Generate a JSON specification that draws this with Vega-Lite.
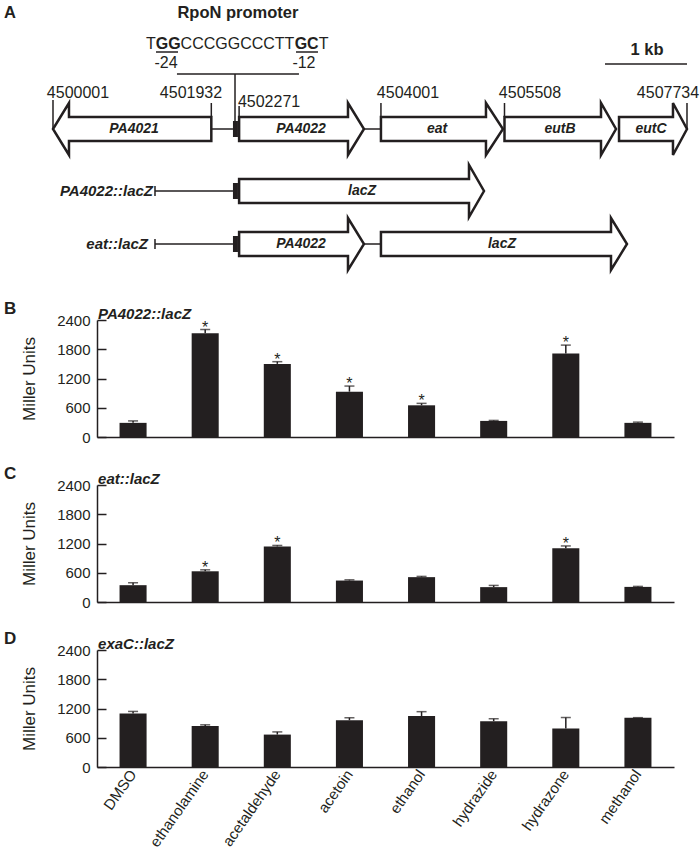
{
  "$schema": "https://vega.github.io/schema/vega-lite/v6.json",
  "padding": {"left": 3, "top": 0, "right": 0, "bottom": 0},
  "background": "white",
  "bounds": "flush",
  "spacing": 48,
  "config": {
    "view": {"stroke": null},
    "font": "Liberation Sans",
    "text": {"font": "Liberation Sans", "color": "#231f20"},
    "axis": {"grid": false, "domainColor": "#231f20", "domainWidth": 1.5, "tickColor": "#231f20", "tickWidth": 1.5, "labelColor": "#231f20", "titleColor": "#231f20", "labelFont": "Liberation Sans", "titleFont": "Liberation Sans", "labelFontSize": 15, "titleFontSize": 17, "titleFontWeight": "normal"},
    "axisY": {"format": "d", "labelOverlap": false, "labelBound": false, "tickSize": -9, "labelPadding": 16, "titlePadding": 18, "tickCount": 10}
  },
  "datasets": {
    "arrows": [
      {"arrow": "PA4021", "ord": 1, "g": 4501932, "y": 155}, {"arrow": "PA4021", "ord": 2, "g": 4500196, "y": 155}, {"arrow": "PA4021", "ord": 3, "g": 4500196, "y": 169}, {"arrow": "PA4021", "ord": 4, "g": 4500001, "y": 143}, {"arrow": "PA4021", "ord": 5, "g": 4500196, "y": 117}, {"arrow": "PA4021", "ord": 6, "g": 4500196, "y": 131}, {"arrow": "PA4021", "ord": 7, "g": 4501932, "y": 131}, {"arrow": "PA4021", "ord": 8, "g": 4501932, "y": 155},
      {"arrow": "PA4022", "ord": 1, "g": 4502271, "y": 155}, {"arrow": "PA4022", "ord": 2, "g": 4503599, "y": 155}, {"arrow": "PA4022", "ord": 3, "g": 4503599, "y": 169}, {"arrow": "PA4022", "ord": 4, "g": 4503794, "y": 143}, {"arrow": "PA4022", "ord": 5, "g": 4503599, "y": 117}, {"arrow": "PA4022", "ord": 6, "g": 4503599, "y": 131}, {"arrow": "PA4022", "ord": 7, "g": 4502271, "y": 131}, {"arrow": "PA4022", "ord": 8, "g": 4502271, "y": 155},
      {"arrow": "eat", "ord": 1, "g": 4504001, "y": 155}, {"arrow": "eat", "ord": 2, "g": 4505282, "y": 155}, {"arrow": "eat", "ord": 3, "g": 4505282, "y": 169}, {"arrow": "eat", "ord": 4, "g": 4505489, "y": 143}, {"arrow": "eat", "ord": 5, "g": 4505282, "y": 117}, {"arrow": "eat", "ord": 6, "g": 4505282, "y": 131}, {"arrow": "eat", "ord": 7, "g": 4504001, "y": 131}, {"arrow": "eat", "ord": 8, "g": 4504001, "y": 155},
      {"arrow": "eutB", "ord": 1, "g": 4505508, "y": 155}, {"arrow": "eutB", "ord": 2, "g": 4506685, "y": 155}, {"arrow": "eutB", "ord": 3, "g": 4506685, "y": 169}, {"arrow": "eutB", "ord": 4, "g": 4506868, "y": 143}, {"arrow": "eutB", "ord": 5, "g": 4506685, "y": 117}, {"arrow": "eutB", "ord": 6, "g": 4506685, "y": 131}, {"arrow": "eutB", "ord": 7, "g": 4505508, "y": 131}, {"arrow": "eutB", "ord": 8, "g": 4505508, "y": 155},
      {"arrow": "eutC", "ord": 1, "g": 4506905, "y": 155}, {"arrow": "eutC", "ord": 2, "g": 4507563, "y": 155}, {"arrow": "eutC", "ord": 3, "g": 4507563, "y": 169}, {"arrow": "eutC", "ord": 4, "g": 4507734, "y": 143}, {"arrow": "eutC", "ord": 5, "g": 4507563, "y": 117}, {"arrow": "eutC", "ord": 6, "g": 4507563, "y": 131}, {"arrow": "eutC", "ord": 7, "g": 4506905, "y": 131}, {"arrow": "eutC", "ord": 8, "g": 4506905, "y": 155},
      {"arrow": "lacZ2", "ord": 1, "g": 4502271, "y": 93}, {"arrow": "lacZ2", "ord": 2, "g": 4505075, "y": 93}, {"arrow": "lacZ2", "ord": 3, "g": 4505075, "y": 107}, {"arrow": "lacZ2", "ord": 4, "g": 4505258, "y": 81}, {"arrow": "lacZ2", "ord": 5, "g": 4505075, "y": 55}, {"arrow": "lacZ2", "ord": 6, "g": 4505075, "y": 69}, {"arrow": "lacZ2", "ord": 7, "g": 4502271, "y": 69}, {"arrow": "lacZ2", "ord": 8, "g": 4502271, "y": 93},
      {"arrow": "PA4022c", "ord": 1, "g": 4502271, "y": 40}, {"arrow": "PA4022c", "ord": 2, "g": 4503599, "y": 40}, {"arrow": "PA4022c", "ord": 3, "g": 4503599, "y": 54}, {"arrow": "PA4022c", "ord": 4, "g": 4503794, "y": 28}, {"arrow": "PA4022c", "ord": 5, "g": 4503599, "y": 2}, {"arrow": "PA4022c", "ord": 6, "g": 4503599, "y": 16}, {"arrow": "PA4022c", "ord": 7, "g": 4502271, "y": 16}, {"arrow": "PA4022c", "ord": 8, "g": 4502271, "y": 40},
      {"arrow": "lacZ3", "ord": 1, "g": 4504001, "y": 40}, {"arrow": "lacZ3", "ord": 2, "g": 4506807, "y": 40}, {"arrow": "lacZ3", "ord": 3, "g": 4506807, "y": 54}, {"arrow": "lacZ3", "ord": 4, "g": 4507002, "y": 28}, {"arrow": "lacZ3", "ord": 5, "g": 4506807, "y": 2}, {"arrow": "lacZ3", "ord": 6, "g": 4506807, "y": 16}, {"arrow": "lacZ3", "ord": 7, "g": 4504001, "y": 16}, {"arrow": "lacZ3", "ord": 8, "g": 4504001, "y": 40}
    ],
    "hlines": [
      {"g1": 4501932, "g2": 4502196, "y": 143},
      {"g1": 4503794, "g2": 4504001, "y": 143},
      {"g1": 4501245, "g2": 4502196, "y": 81},
      {"g1": 4501245, "g2": 4502196, "y": 28},
      {"g1": 4503794, "g2": 4504001, "y": 28},
      {"g1": 4501513, "g2": 4503001, "y": 198},
      {"g1": 4501257, "g2": 4501526, "y": 220},
      {"g1": 4502965, "g2": 4503233, "y": 220},
      {"g1": 4506734, "g2": 4507734, "y": 208}
    ],
    "vlines": [
      {"g": 4500001, "y1": 172, "y2": 143},
      {"g": 4501932, "y1": 169, "y2": 155},
      {"g": 4502271, "y1": 166, "y2": 155},
      {"g": 4504001, "y1": 169, "y2": 155},
      {"g": 4505508, "y1": 169, "y2": 155},
      {"g": 4507734, "y1": 169, "y2": 143},
      {"g": 4502221, "y1": 198, "y2": 151},
      {"g": 4501245, "y1": 76, "y2": 86},
      {"g": 4501245, "y1": 23, "y2": 33}
    ],
    "boxes": [
      {"g1": 4502196, "g2": 4502257, "y1": 135, "y2": 151},
      {"g1": 4502196, "g2": 4502257, "y1": 73, "y2": 89},
      {"g1": 4502196, "g2": 4502257, "y1": 20, "y2": 36}
    ],
    "titles": [
      {"t": "A", "g": 4499476, "y": 259},
      {"t": "RpoN promoter", "g": 4502257, "y": 259},
      {"t": "1 kb", "g": 4507246, "y": 222}
    ],
    "seqRegular": [
      {"t": "T", "g": 4501195, "y": 228.5},
      {"t": "CCCGGCCCTT", "g": 4502251, "y": 228.5},
      {"t": "T", "g": 4503301, "y": 228.5}
    ],
    "seqBold": [
      {"t": "GG", "g": 4501406, "y": 228.5},
      {"t": "GC", "g": 4503095, "y": 228.5}
    ],
    "coords": [
      {"t": "-24", "g": 4501379, "y": 209},
      {"t": "-12", "g": 4503062, "y": 209},
      {"t": "4500001", "g": 4500306, "y": 179},
      {"t": "4501932", "g": 4501684, "y": 179},
      {"t": "4502271", "g": 4502636, "y": 170},
      {"t": "4504001", "g": 4504331, "y": 179},
      {"t": "4505508", "g": 4505819, "y": 179},
      {"t": "4507734", "g": 4507502, "y": 179}
    ],
    "genes": [
      {"t": "PA4021", "g": 4500989, "y": 143},
      {"t": "PA4022", "g": 4503026, "y": 143},
      {"t": "eat", "g": 4504685, "y": 143},
      {"t": "eutB", "g": 4506185, "y": 143},
      {"t": "eutC", "g": 4507295, "y": 143},
      {"t": "lacZ", "g": 4503770, "y": 81},
      {"t": "PA4022", "g": 4503026, "y": 28},
      {"t": "lacZ", "g": 4505477, "y": 28}
    ],
    "constructs": [
      {"t": "PA4022::lacZ", "g": 4501221, "y": 81},
      {"t": "eat::lacZ", "g": 4501160, "y": 28}
    ],
    "panelB": [
      {"treatment": "DMSO", "value": 290, "hi": 330, "star": ""},
      {"treatment": "ethanolamine", "value": 2130, "hi": 2205, "star": "*"},
      {"treatment": "acetaldehyde", "value": 1500, "hi": 1545, "star": "*"},
      {"treatment": "acetoin", "value": 930, "hi": 1045, "star": "*"},
      {"treatment": "ethanol", "value": 650, "hi": 690, "star": "*"},
      {"treatment": "hydrazide", "value": 330, "hi": 340, "star": ""},
      {"treatment": "hydrazone", "value": 1715, "hi": 1885, "star": "*"},
      {"treatment": "methanol", "value": 290, "hi": 305, "star": ""}
    ],
    "panelC": [
      {"treatment": "DMSO", "value": 345, "hi": 395, "star": ""},
      {"treatment": "ethanolamine", "value": 630, "hi": 660, "star": "*"},
      {"treatment": "acetaldehyde", "value": 1140, "hi": 1160, "star": "*"},
      {"treatment": "acetoin", "value": 440, "hi": 455, "star": ""},
      {"treatment": "ethanol", "value": 510, "hi": 525, "star": ""},
      {"treatment": "hydrazide", "value": 305, "hi": 340, "star": ""},
      {"treatment": "hydrazone", "value": 1105, "hi": 1150, "star": "*"},
      {"treatment": "methanol", "value": 310, "hi": 320, "star": ""}
    ],
    "panelD": [
      {"treatment": "DMSO", "value": 1100, "hi": 1140, "star": ""},
      {"treatment": "ethanolamine", "value": 840, "hi": 865, "star": ""},
      {"treatment": "acetaldehyde", "value": 665, "hi": 720, "star": ""},
      {"treatment": "acetoin", "value": 960, "hi": 1010, "star": ""},
      {"treatment": "ethanol", "value": 1045, "hi": 1135, "star": ""},
      {"treatment": "hydrazide", "value": 940, "hi": 990, "star": ""},
      {"treatment": "hydrazone", "value": 790, "hi": 1015, "star": ""},
      {"treatment": "methanol", "value": 1010, "hi": 1012, "star": ""}
    ]
  },
  "vconcat": [
    {
      "width": 577,
      "height": 272,
      "layer": [
        {
          "data": {"name": "arrows"},
          "mark": {"type": "line", "stroke": "#231f20", "strokeWidth": 2.5, "strokeJoin": "miter", "strokeCap": "square"},
          "encoding": {
            "x": {"field": "g", "type": "quantitative", "scale": {"domain": [4500537.7, 4507575.5], "zero": false, "nice": false}, "axis": null},
            "y": {"field": "y", "type": "quantitative", "scale": {"domain": [0, 272], "zero": false, "nice": false}, "axis": null},
            "detail": {"field": "arrow"},
            "order": {"field": "ord", "type": "quantitative"}
          }
        },
        {
          "data": {"name": "hlines"},
          "mark": {"type": "rule", "color": "#231f20", "strokeWidth": 1.5},
          "encoding": {
            "x": {"field": "g1", "type": "quantitative", "scale": {"domain": [4500537.7, 4507575.5], "zero": false, "nice": false}, "axis": null},
            "x2": {"field": "g2"},
            "y": {"field": "y", "type": "quantitative", "scale": {"domain": [0, 272], "zero": false, "nice": false}, "axis": null}
          }
        },
        {
          "data": {"name": "vlines"},
          "mark": {"type": "rule", "color": "#231f20", "strokeWidth": 1.5},
          "encoding": {
            "x": {"field": "g", "type": "quantitative", "scale": {"domain": [4500537.7, 4507575.5], "zero": false, "nice": false}, "axis": null},
            "y": {"field": "y1", "type": "quantitative", "scale": {"domain": [0, 272], "zero": false, "nice": false}, "axis": null},
            "y2": {"field": "y2"}
          }
        },
        {
          "data": {"name": "boxes"},
          "mark": {"type": "rect", "color": "#231f20"},
          "encoding": {
            "x": {"field": "g1", "type": "quantitative", "scale": {"domain": [4500537.7, 4507575.5], "zero": false, "nice": false}, "axis": null},
            "x2": {"field": "g2"},
            "y": {"field": "y1", "type": "quantitative", "scale": {"domain": [0, 272], "zero": false, "nice": false}, "axis": null},
            "y2": {"field": "y2"}
          }
        },
        {
          "data": {"name": "titles"},
          "mark": {"type": "text", "fontSize": 16.5, "fontWeight": "bold", "baseline": "middle", "align": "center"},
          "encoding": {
            "x": {"field": "g", "type": "quantitative", "scale": {"domain": [4500537.7, 4507575.5], "zero": false, "nice": false}, "axis": null},
            "y": {"field": "y", "type": "quantitative", "scale": {"domain": [0, 272], "zero": false, "nice": false}, "axis": null},
            "text": {"field": "t"}
          }
        },
        {
          "data": {"name": "seqRegular"},
          "mark": {"type": "text", "fontSize": 16, "baseline": "middle", "align": "center"},
          "encoding": {
            "x": {"field": "g", "type": "quantitative", "scale": {"domain": [4500537.7, 4507575.5], "zero": false, "nice": false}, "axis": null},
            "y": {"field": "y", "type": "quantitative", "scale": {"domain": [0, 272], "zero": false, "nice": false}, "axis": null},
            "text": {"field": "t"}
          }
        },
        {
          "data": {"name": "seqBold"},
          "mark": {"type": "text", "fontSize": 16, "fontWeight": "bold", "baseline": "middle", "align": "center"},
          "encoding": {
            "x": {"field": "g", "type": "quantitative", "scale": {"domain": [4500537.7, 4507575.5], "zero": false, "nice": false}, "axis": null},
            "y": {"field": "y", "type": "quantitative", "scale": {"domain": [0, 272], "zero": false, "nice": false}, "axis": null},
            "text": {"field": "t"}
          }
        },
        {
          "data": {"name": "coords"},
          "mark": {"type": "text", "fontSize": 16, "baseline": "middle", "align": "center"},
          "encoding": {
            "x": {"field": "g", "type": "quantitative", "scale": {"domain": [4500537.7, 4507575.5], "zero": false, "nice": false}, "axis": null},
            "y": {"field": "y", "type": "quantitative", "scale": {"domain": [0, 272], "zero": false, "nice": false}, "axis": null},
            "text": {"field": "t"}
          }
        },
        {
          "data": {"name": "genes"},
          "mark": {"type": "text", "fontSize": 14, "fontWeight": "bold", "fontStyle": "italic", "baseline": "middle", "align": "center"},
          "encoding": {
            "x": {"field": "g", "type": "quantitative", "scale": {"domain": [4500537.7, 4507575.5], "zero": false, "nice": false}, "axis": null},
            "y": {"field": "y", "type": "quantitative", "scale": {"domain": [0, 272], "zero": false, "nice": false}, "axis": null},
            "text": {"field": "t"}
          }
        },
        {
          "data": {"name": "constructs"},
          "mark": {"type": "text", "fontSize": 15, "fontWeight": "bold", "fontStyle": "italic", "baseline": "middle", "align": "right"},
          "encoding": {
            "x": {"field": "g", "type": "quantitative", "scale": {"domain": [4500537.7, 4507575.5], "zero": false, "nice": false}, "axis": null},
            "y": {"field": "y", "type": "quantitative", "scale": {"domain": [0, 272], "zero": false, "nice": false}, "axis": null},
            "text": {"field": "t"}
          }
        }
      ]
    },
    {
      "width": 577,
      "height": 117,
      "data": {"name": "panelB"},
      "encoding": {
        "x": {"field": "treatment", "type": "nominal", "sort": null, "scale": {"paddingInner": 0.625, "paddingOuter": 0.3125}, "axis": {"title": null, "labels": false, "ticks": false}}
      },
      "layer": [
        {"mark": {"type": "bar", "color": "#231f20"}, "encoding": {"y": {"field": "value", "type": "quantitative", "scale": {"domain": [0, 2400], "nice": false}, "title": "Miller Units", "axis": {"values": [0, 600, 1200, 1800, 2400], "tickCount": 10, "tickSize": -9, "titlePadding": 18}}}},
        {"mark": {"type": "rule", "color": "#231f20", "strokeWidth": 1.5}, "encoding": {"y": {"field": "value", "type": "quantitative", "title": "Miller Units"}, "y2": {"field": "hi"}}},
        {"mark": {"type": "tick", "color": "#231f20", "size": 10, "thickness": 1.5}, "encoding": {"y": {"field": "hi", "type": "quantitative", "title": "Miller Units"}}},
        {"mark": {"type": "text", "fontSize": 16, "dy": -2, "color": "#231f20"}, "encoding": {"y": {"field": "hi", "type": "quantitative", "title": "Miller Units"}, "text": {"field": "star"}}},
        {"data": {"values": [{"t": "B"}]}, "mark": {"type": "text", "align": "left", "fontSize": 17, "fontWeight": "bold", "dx": -115.5, "dy": -11}, "encoding": {"x": {"datum": "DMSO", "bandPosition": 0}, "y": {"datum": 2400, "title": "Miller Units"}, "text": {"field": "t"}}},
        {"data": {"values": [{"t": "PA4022::lacZ"}]}, "mark": {"type": "text", "align": "left", "fontSize": 15, "fontWeight": "bold", "fontStyle": "italic", "dx": -21.5, "dy": -6}, "encoding": {"x": {"datum": "DMSO", "bandPosition": 0}, "y": {"datum": 2400, "title": "Miller Units"}, "text": {"field": "t"}}}
      ]
    },
    {
      "width": 577,
      "height": 117,
      "data": {"name": "panelC"},
      "encoding": {
        "x": {"field": "treatment", "type": "nominal", "sort": null, "scale": {"paddingInner": 0.625, "paddingOuter": 0.3125}, "axis": {"title": null, "labels": false, "ticks": false}}
      },
      "layer": [
        {"mark": {"type": "bar", "color": "#231f20"}, "encoding": {"y": {"field": "value", "type": "quantitative", "scale": {"domain": [0, 2400], "nice": false}, "title": "Miller Units", "axis": {"values": [0, 600, 1200, 1800, 2400], "tickCount": 10, "tickSize": -9, "titlePadding": 18}}}},
        {"mark": {"type": "rule", "color": "#231f20", "strokeWidth": 1.5}, "encoding": {"y": {"field": "value", "type": "quantitative", "title": "Miller Units"}, "y2": {"field": "hi"}}},
        {"mark": {"type": "tick", "color": "#231f20", "size": 10, "thickness": 1.5}, "encoding": {"y": {"field": "hi", "type": "quantitative", "title": "Miller Units"}}},
        {"mark": {"type": "text", "fontSize": 16, "dy": -2, "color": "#231f20"}, "encoding": {"y": {"field": "hi", "type": "quantitative", "title": "Miller Units"}, "text": {"field": "star"}}},
        {"data": {"values": [{"t": "C"}]}, "mark": {"type": "text", "align": "left", "fontSize": 17, "fontWeight": "bold", "dx": -115.5, "dy": -11}, "encoding": {"x": {"datum": "DMSO", "bandPosition": 0}, "y": {"datum": 2400, "title": "Miller Units"}, "text": {"field": "t"}}},
        {"data": {"values": [{"t": "eat::lacZ"}]}, "mark": {"type": "text", "align": "left", "fontSize": 15, "fontWeight": "bold", "fontStyle": "italic", "dx": -21.5, "dy": -6}, "encoding": {"x": {"datum": "DMSO", "bandPosition": 0}, "y": {"datum": 2400, "title": "Miller Units"}, "text": {"field": "t"}}}
      ]
    },
    {
      "width": 577,
      "height": 117,
      "data": {"name": "panelD"},
      "encoding": {
        "x": {"field": "treatment", "type": "nominal", "sort": null, "scale": {"paddingInner": 0.625, "paddingOuter": 0.3125}, "axis": {"title": null, "labels": true, "ticks": false, "labelAngle": -55, "labelAlign": "right", "labelBaseline": "middle", "labelPadding": 4, "labelFontSize": 15}}
      },
      "layer": [
        {"mark": {"type": "bar", "color": "#231f20"}, "encoding": {"y": {"field": "value", "type": "quantitative", "scale": {"domain": [0, 2400], "nice": false}, "title": "Miller Units", "axis": {"values": [0, 600, 1200, 1800, 2400], "tickCount": 10, "tickSize": -9, "titlePadding": 18}}}},
        {"mark": {"type": "rule", "color": "#231f20", "strokeWidth": 1.5}, "encoding": {"y": {"field": "value", "type": "quantitative", "title": "Miller Units"}, "y2": {"field": "hi"}}},
        {"mark": {"type": "tick", "color": "#231f20", "size": 10, "thickness": 1.5}, "encoding": {"y": {"field": "hi", "type": "quantitative", "title": "Miller Units"}}},
        {"data": {"values": [{"t": "D"}]}, "mark": {"type": "text", "align": "left", "fontSize": 17, "fontWeight": "bold", "dx": -115.5, "dy": -11}, "encoding": {"x": {"datum": "DMSO", "bandPosition": 0}, "y": {"datum": 2400, "title": "Miller Units"}, "text": {"field": "t"}}},
        {"data": {"values": [{"t": "exaC::lacZ"}]}, "mark": {"type": "text", "align": "left", "fontSize": 15, "fontWeight": "bold", "fontStyle": "italic", "dx": -21.5, "dy": -6}, "encoding": {"x": {"datum": "DMSO", "bandPosition": 0}, "y": {"datum": 2400, "title": "Miller Units"}, "text": {"field": "t"}}}
      ]
    }
  ]
}
